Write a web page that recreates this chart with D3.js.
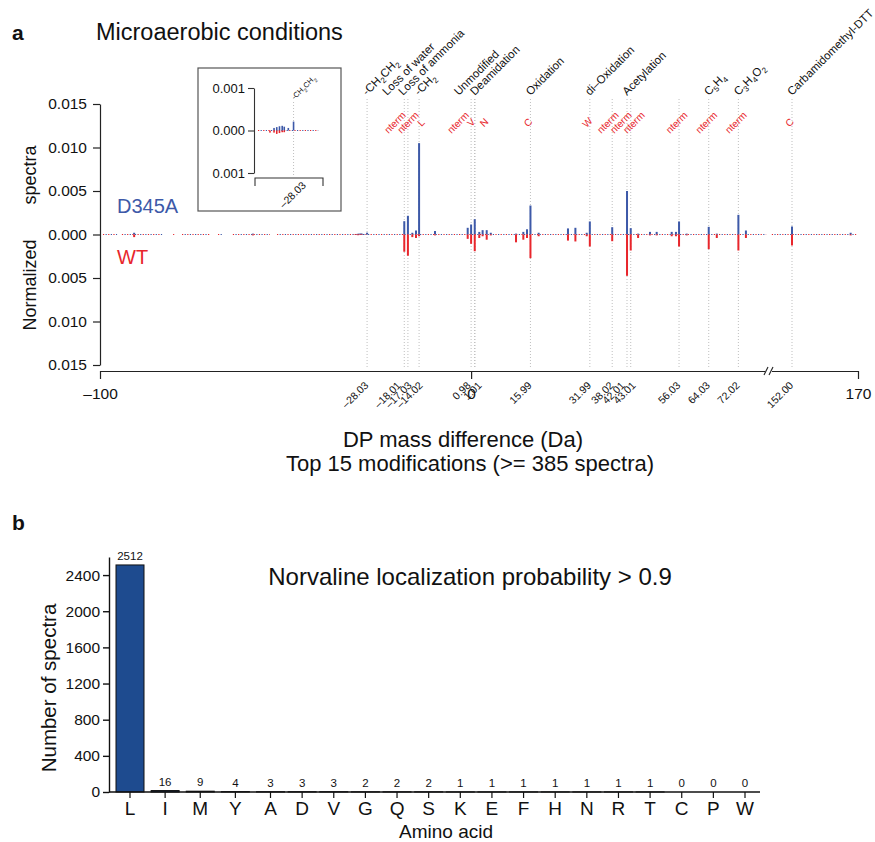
<!DOCTYPE html>
<html>
<head>
<meta charset="utf-8">
<script src="https://cdn.jsdelivr.net/npm/d3@7"></script>
<style>
  body { margin: 0; background: #fff; }
  svg text { font-family: "Liberation Sans", Arial, Helvetica, sans-serif; fill: #111; }
</style>
</head>
<body>
<svg id="fig" width="875" height="842"></svg>
<script>
// ---------- panel a data ----------
// mass shifts of the 15 top modifications (plus unmodified at 0)
const modMasses = [-28.03, -18.01, -17.03, -14.02, 0, 0.98, 1.01, 15.99, 31.99, 38.02, 42.01, 43.01, 56.03, 64.03, 72.02, 152.00];
const modTickMasses = modMasses.filter(m => m !== 0);

const nameMasses = [-28.03, -18.01, -17.03, -14.02, 0, 0.98, 15.99, 31.99, 42.01, 64.03, 72.02, 152.00];
const nameLabels = ["-CH_2CH_2", "Loss of water", "Loss of ammonia", "-CH_2", "Unmodified", "Deamidation",
  "Oxidation", "di\u2013Oxidation", "Acetylation", "C_5H_4", "C_3H_4O_2", "Carbamidomethyl-DTT"];

const siteMasses = [-18.01, -17.03, -14.02, 0, 0.98, 1.01, 15.99, 31.99, 38.02, 42.01, 43.01, 56.03, 64.03, 72.02, 152.00];
const siteLabels = ["nterm", "nterm", "L", "nterm", "V", "N", "C", "W", "nterm", "nterm", "nterm", "nterm", "nterm", "nterm", "C"];

// normalized spectra per mass bin
const binMass = [-90.8, -58.8, -31.5, -30.9, -30.5, -30.1, -29.7, -29.4, -28.8, -28.03,
  -18.01, -17.03, -15.84, -14.85, -14.02, -9.73, -0.92, 0, 0.98, 2.2, 3.1, 4.2, 5.3,
  12.1, 14.07, 15.06, 15.99, 18.2, 26.1, 28.1, 31.15, 31.99, 38.02, 42.01, 43.01, 45.0,
  48.2, 50.0, 54.05, 55.2, 56.03, 58.1, 64.03, 66.2, 72.02, 74.05, 152.0, 168.0];
const d345a = [0.0002, 0.0001, 0, 0.00006, 0.00008, 0.0001, 0.00011, 0.00009, 0.00006, 0.00021,
  0.00153, 0.00215, 0.0002, 0.00046, 0.0105, 0.0004, 0.00077, 0.00115, 0.00176, 0.0003, 0.0005, 0.0005, 0.0002,
  0.0001, 0.0003, 0.0006, 0.00333, 0.0002, 0.0007, 0.00077, 0.0002, 0.0015, 0.00084, 0.0050, 0.00073, 0.0001,
  0.0003, 0.0003, 0.0003, 0.0003, 0.0015, 0.0001, 0.00088, 0.0001, 0.00226, 0.00046, 0.00092, 0.0002];
const wt = [0.0003, 0.0001, 0.00005, 0.00005, 0.00008, 0.00006, 0.00004, 0.00004, 0, 0,
  0.00198, 0.00244, 0.0003, 0.0004, 0.0002, 0.0001, 0.0005, 0.00107, 0.00192, 0.0004, 0.0002, 0.0006, 0.0001,
  0.0009, 0.0006, 0.0004, 0.00272, 0.0002, 0.0007, 0.0008, 0.0002, 0.00138, 0.00077, 0.00475, 0.00184, 0.0004,
  0.0001, 0.0001, 0.0002, 0.0002, 0.00138, 0.0001, 0.00169, 0.0004, 0.00184, 0.0004, 0.00126, 0.0001];

// stretches of tiny bins drawn as a dotted baseline
const minorRanges = [[-99.2, -95.4], [-94.1, -83.0], [-80.3, -80.0], [-77.9, -70.4], [-68.2, -66.8],
  [-64.2, -54.2], [-52.3, 79.5], [146.5, 169.5]];
const insetRange = [-33.26, -24.4];

const yTicksA = [-0.015, -0.010, -0.005, 0, 0.005, 0.010, 0.015];
const insetTicks = [-0.001, 0, 0.001];

// ---------- panel b data ----------
const aminoAcids = ["L", "I", "M", "Y", "A", "D", "V", "G", "Q", "S", "K", "E", "F", "H", "N", "R", "T", "C", "P", "W"];
const spectraCounts = [2512, 16, 9, 4, 3, 3, 3, 2, 2, 2, 1, 1, 1, 1, 1, 1, 1, 0, 0, 0];
const countTicks = [0, 400, 800, 1200, 1600, 2000, 2400];

const blue = "#3D59A8", red = "#E8262C";
const svg = d3.select("#fig");

// text with "_n" subscripts
function richText(sel, str, subSize) {
  let wasSub = false;
  str.split(/(_\d)/).filter(s => s.length).forEach(part => {
    if (part[0] === "_") {
      sel.append("tspan").attr("font-size", subSize).attr("dy", 3).text(part.slice(1));
      wasSub = true;
    } else {
      sel.append("tspan").attr("dy", wasSub ? -3 : 0).text(part);
      wasSub = false;
    }
  });
}

// push neighbouring labels apart symmetrically
function spread(xs, gap) {
  const p = xs.slice();
  for (let k = 0; k < 200; k++) {
    for (let i = 1; i < p.length; i++) {
      const d = p[i] - p[i - 1];
      if (d < gap) { const s = (gap - d) / 2; p[i - 1] -= s; p[i] += s; }
    }
  }
  return p;
}

// ===================== panel a =====================
svg.append("text").attr("x", 12).attr("y", 40).attr("font-size", 21).attr("font-weight", "bold").text("a");
svg.append("text").attr("x", 96).attr("y", 40).attr("font-size", 23.5).text("Microaerobic conditions");

const x = d3.scaleLinear().domain([-100, 80, 146, 170]).range([100, 768, 770, 858]);
const y = d3.scaleLinear().domain([-0.015, 0.015]).range([365, 104]);

// dotted guide lines
svg.append("g").selectAll("line").data(modMasses).join("line")
  .attr("x1", d => x(d)).attr("x2", d => x(d))
  .attr("y1", 99).attr("y2", 368)
  .attr("stroke", "#b8b8b8").attr("stroke-width", 0.9).attr("stroke-dasharray", "1,2");

// y axis
const yAxis = svg.append("g").attr("transform", "translate(100,0)")
  .call(d3.axisLeft(y).tickValues(yTicksA).tickSize(7).tickSizeOuter(0).tickPadding(6)
    .tickFormat(d => d3.format(".3f")(Math.abs(d))));
yAxis.selectAll("text").attr("font-size", 15.5);
yAxis.selectAll("path,line").attr("stroke", "#222").attr("stroke-width", 1.2);

svg.append("text").attr("transform", "translate(36,285) rotate(-90)").attr("text-anchor", "middle")
  .attr("font-size", 18).text("Normalized");
svg.append("text").attr("transform", "translate(36,175) rotate(-90)").attr("text-anchor", "middle")
  .attr("font-size", 18).text("spectra");

// x axis with break
const xAxis = svg.append("g").attr("transform", "translate(0,371)")
  .call(d3.axisBottom(x).tickValues([-100, 0, 170]).tickSize(8).tickSizeOuter(0).tickPadding(9)
    .tickFormat(d => d < 0 ? "\u2013" + Math.abs(d) : d));
xAxis.selectAll("text").attr("font-size", 15.5);
xAxis.selectAll("path,line").attr("stroke", "#222").attr("stroke-width", 1.2);
xAxis.append("rect").attr("x", 765).attr("y", -3).attr("width", 7).attr("height", 6).attr("fill", "#fff");
[764, 769].forEach(bx => xAxis.append("line").attr("x1", bx).attr("x2", bx + 4).attr("y1", 4).attr("y2", -4)
  .attr("stroke", "#222").attr("stroke-width", 1.1));

// modification tick labels, spread when crowded
const tickX = spread(modTickMasses.map(m => x(m)), 11);
svg.append("g").selectAll("text").data(modTickMasses).join("text")
  .attr("transform", (d, i) => `translate(${tickX[i] + 2},386) rotate(-45)`)
  .attr("text-anchor", "end").attr("font-size", 10.5).attr("fill", "#222")
  .text(d => d < 0 ? "\u2013" + Math.abs(d).toFixed(2) : d.toFixed(2));

svg.append("text").attr("x", 463).attr("y", 447).attr("text-anchor", "middle").attr("font-size", 22)
  .text("DP mass difference (Da)");
svg.append("text").attr("x", 470).attr("y", 471).attr("text-anchor", "middle").attr("font-size", 22)
  .text("Top 15 modifications (>= 385 spectra)");

// modification names, shifted left when crowded
const nameX = nameMasses.map(m => x(m));
for (let i = nameX.length - 2; i >= 0; i--) nameX[i] = Math.min(nameX[i], nameX[i + 1] - 16);
nameLabels.forEach((t, i) => {
  const el = svg.append("text").attr("transform", `translate(${nameX[i]},96) rotate(-45)`)
    .attr("font-size", 11.5).attr("fill", "#111");
  richText(el, t, 8);
});

// localization sites
const siteX = spread(siteMasses.map(m => x(m)), 13);
svg.append("g").selectAll("text").data(siteLabels).join("text")
  .attr("transform", (d, i) => `translate(${siteX[i]},125) rotate(-45)`)
  .attr("text-anchor", "middle").attr("font-size", 10).style("fill", red).text(d => d);

// dotted baseline
function dottedBase(g, xs, ys, ranges) {
  ranges.forEach(([a, b]) => {
    g.append("line").attr("x1", xs(a)).attr("x2", xs(b)).attr("y1", ys(0)).attr("y2", ys(0))
      .attr("stroke", red).attr("stroke-width", 1.2).attr("stroke-dasharray", "1.2,4");
    g.append("line").attr("x1", xs(a)).attr("x2", xs(b)).attr("y1", ys(0)).attr("y2", ys(0))
      .attr("stroke", blue).attr("stroke-width", 1.2).attr("stroke-dasharray", "1.2,4").attr("stroke-dashoffset", -2.6);
  });
}
dottedBase(svg.append("g"), x, y, minorRanges);

// spectra bars
const bins = binMass.map((m, i) => ({ m, up: d345a[i], down: wt[i] }));
function drawBars(g, xs, ys, data, w) {
  g.selectAll("rect.up").data(data.filter(d => d.up > 0)).join("rect").attr("class", "up")
    .attr("x", d => xs(d.m) - w / 2).attr("width", w)
    .attr("y", d => ys(d.up)).attr("height", d => ys(0) - ys(d.up)).attr("fill", blue);
  g.selectAll("rect.down").data(data.filter(d => d.down > 0)).join("rect").attr("class", "down")
    .attr("x", d => xs(d.m) - w / 2).attr("width", w)
    .attr("y", ys(0)).attr("height", d => ys(-d.down) - ys(0)).attr("fill", red);
}
drawBars(svg.append("g"), x, y, bins, 2);

svg.append("text").attr("x", 117).attr("y", 213).attr("font-size", 20).style("fill", blue).text("D345A");
svg.append("text").attr("x", 117).attr("y", 264).attr("font-size", 20).style("fill", red).text("WT");

// inset around -28.03
const xi = d3.scaleLinear().domain([-33.7, -23.7]).range([255, 323]);
const yi = d3.scaleLinear().domain([-0.001, 0.001]).range([173, 88]);
const inset = svg.append("g");
inset.append("rect").attr("x", 198).attr("y", 68).attr("width", 143).attr("height", 143)
  .attr("fill", "#fff").attr("stroke", "#555").attr("stroke-width", 1.2);
inset.append("line").attr("x1", xi(-28.03)).attr("x2", xi(-28.03)).attr("y1", 102).attr("y2", 176)
  .attr("stroke", "#b8b8b8").attr("stroke-width", 0.9).attr("stroke-dasharray", "1,2");
const iy = inset.append("g").attr("transform", "translate(254,0)")
  .call(d3.axisLeft(yi).tickValues(insetTicks).tickSize(6).tickSizeOuter(0).tickPadding(3)
    .tickFormat(d => d3.format(".3f")(Math.abs(d))));
iy.selectAll("text").attr("font-size", 13);
iy.selectAll("path,line").attr("stroke", "#333").attr("stroke-width", 1.1);
inset.append("path").attr("d", `M${xi.range()[0]},186V178H${xi.range()[1]}V186`)
  .attr("fill", "none").attr("stroke", "#333").attr("stroke-width", 1.1);
inset.append("text").attr("transform", `translate(${xi(-28.03) + 13},186) rotate(-45)`)
  .attr("text-anchor", "end").attr("font-size", 10.5).attr("fill", "#222").text("\u201328.03");
const il = inset.append("text").attr("transform", `translate(${xi(-28.03) + 1},100) rotate(-45)`)
  .attr("font-size", 7.5);
richText(il, "-CH_2CH_2", 5.5);
dottedBase(inset.append("g"), xi, yi, [insetRange]);
drawBars(inset.append("g"), xi, yi, bins.filter(d => d.m >= -33.7 && d.m <= -23.7), 1.6);

// ===================== panel b =====================
svg.append("text").attr("x", 12).attr("y", 530).attr("font-size", 21).attr("font-weight", "bold").text("b");
svg.append("text").attr("x", 470).attr("y", 585).attr("text-anchor", "middle").attr("font-size", 24)
  .text("Norvaline localization probability > 0.9");

const yb = d3.scaleLinear().domain([0, 2600]).range([792, 557]);
const xb = d3.scaleLinear().domain([0, 4, aminoAcids.length - 1]).range([130, 270.5, 745]);
const barW = 28;

svg.append("g").selectAll("rect").data(spectraCounts).join("rect")
  .attr("x", (d, i) => xb(i) - barW / 2).attr("width", barW)
  .attr("y", d => yb(d)).attr("height", d => yb(0) - yb(d))
  .attr("fill", "#1E4B8F").attr("stroke", "#111").attr("stroke-width", 1);

svg.append("g").selectAll("text").data(spectraCounts).join("text")
  .attr("x", (d, i) => xb(i)).attr("y", d => yb(d) - 5)
  .attr("text-anchor", "middle").attr("font-size", 11.5).text(d => d);

const yAxB = svg.append("g").attr("transform", "translate(109,0)")
  .call(d3.axisLeft(yb).tickValues(countTicks).tickSize(6).tickSizeOuter(0).tickPadding(3)
    .tickFormat(d3.format("d")));
yAxB.selectAll("text").attr("font-size", 15.5);
yAxB.selectAll("path,line").attr("stroke", "#111").attr("stroke-width", 1.4);

const xAxB = svg.append("g");
xAxB.append("line").attr("x1", 109).attr("x2", 760).attr("y1", 792).attr("y2", 792)
  .attr("stroke", "#111").attr("stroke-width", 1.6);
xAxB.selectAll("line.t").data(aminoAcids).join("line").attr("class", "t")
  .attr("x1", (d, i) => xb(i)).attr("x2", (d, i) => xb(i)).attr("y1", 792).attr("y2", 798)
  .attr("stroke", "#111").attr("stroke-width", 1.2);
xAxB.selectAll("text").data(aminoAcids).join("text")
  .attr("x", (d, i) => xb(i)).attr("y", 815).attr("text-anchor", "middle").attr("font-size", 19).text(d => d);

svg.append("text").attr("transform", "translate(56,688) rotate(-90)").attr("text-anchor", "middle")
  .attr("font-size", 20.5).text("Number of spectra");
svg.append("text").attr("x", 446).attr("y", 838).attr("text-anchor", "middle").attr("font-size", 19)
  .text("Amino acid");
</script>
</body>
</html>
